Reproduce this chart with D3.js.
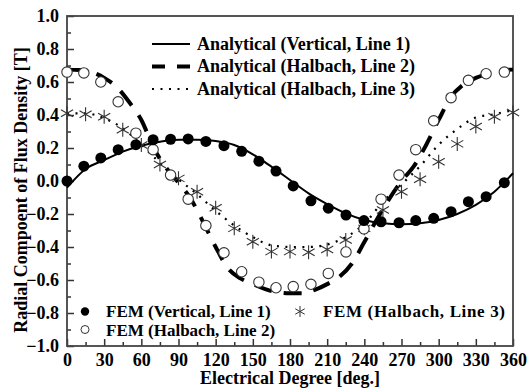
<!DOCTYPE html>
<html>
<head>
<meta charset="utf-8">
<script src="https://cdn.jsdelivr.net/npm/d3@7"></script>
<style>
  body { margin: 0; background: #fff; }
  svg text { font-family: "Liberation Serif", "Times New Roman", serif; font-weight: bold; fill: #000; }
</style>
</head>
<body>
<main></main>
<script>
// analytical curves
var angle15 = [0,15,30,45,60,75,90,105,120,135,150,165,180,195,210,225,240,255,270,285,300,315,330,345,360];
var angle10 = [0,10,20,30,40,50,60,70,80,90,100,110,120,130,140,150,160,170,180,190,200,210,220,230,240,250,260,270,280,290,300,310,320,330,340,350,360];
var anaVertical = [-0.04,0.073,0.127,0.178,0.214,0.238,0.25,0.25,0.242,0.218,0.162,0.087,0.006,-0.075,-0.14,-0.196,-0.236,-0.256,-0.262,-0.256,-0.236,-0.2,-0.145,-0.065,0.047];
var anaHalbach2 = [0.675,0.673,0.66,0.625,0.57,0.48,0.37,0.2,0.08,-0.01,-0.11,-0.25,-0.4,-0.53,-0.59,-0.625,-0.655,-0.675,-0.68,-0.68,-0.66,-0.625,-0.58,-0.5,-0.37,-0.235,-0.11,0,0.09,0.22,0.37,0.51,0.585,0.625,0.65,0.67,0.675];
var anaHalbach3 = [0.41,0.41,0.38,0.32,0.22,0.11,0.01,-0.08,-0.18,-0.27,-0.34,-0.39,-0.4,-0.4,-0.385,-0.34,-0.26,-0.125,-0.02,0.09,0.22,0.315,0.385,0.405,0.43];

// FEM points
var femAngle = [0,13.6,27.3,41.3,55.6,69.5,83.6,97.8,112.1,126.7,141,154.9,168.7,182.6,196.9,210.9,225.2,239.7,253.5,268,281.5,296,310,324,338.3,353];
var femVertical = [0,0.09,0.14,0.19,0.22,0.25,0.253,0.255,0.24,0.214,0.18,0.12,0.06,-0.03,-0.12,-0.165,-0.206,-0.24,-0.247,-0.253,-0.24,-0.226,-0.186,-0.125,-0.095,-0.01];
var femHalbach2 = [0.66,0.655,0.6,0.48,0.29,0.19,0.036,-0.11,-0.27,-0.435,-0.55,-0.613,-0.647,-0.64,-0.626,-0.56,-0.43,-0.29,-0.11,0.036,0.19,0.365,0.505,0.61,0.65,0.66];
var femHalbach3 = [0.41,0.405,0.39,0.31,0.218,0.1,0.016,-0.065,-0.162,-0.287,-0.368,-0.428,-0.428,-0.432,-0.415,-0.358,-0.287,-0.176,-0.065,0.01,0.117,0.225,0.33,0.39,0.415];

var xTicks = [0,30,60,90,120,150,180,210,240,270,300,330,360];
var yTicks = [-1.0,-0.8,-0.6,-0.4,-0.2,0.0,0.2,0.4,0.6,0.8,1.0];

var fs = 18;

var svg = d3.select('main').append('svg')
    .attr('width', 527)
    .attr('height', 389);

var x = d3.scaleLinear().domain([0, 360]).range([67, 513]);
var y = d3.scaleLinear().domain([-1, 1]).range([346, 16]);

// minor ticks
svg.append('g')
    .attr('transform', 'translate(0,346)')
    .call(d3.axisBottom(x).tickValues(d3.range(15, 360, 30)).tickSize(-4).tickFormat(''))
    .call(g => g.select('.domain').remove())
    .selectAll('line').attr('stroke', '#333').attr('stroke-width', 1.5);
svg.append('g')
    .attr('transform', 'translate(67,0)')
    .call(d3.axisLeft(y).tickValues(d3.range(-9, 10, 2).map(d => d / 10)).tickSize(-4).tickFormat(''))
    .call(g => g.select('.domain').remove())
    .selectAll('line').attr('stroke', '#333').attr('stroke-width', 1.5);

// major axes
var xAxis = svg.append('g')
    .attr('transform', 'translate(0,346)')
    .call(d3.axisBottom(x).tickValues(xTicks).tickSize(-7).tickPadding(7).tickFormat(d3.format('d')));
var yAxis = svg.append('g')
    .attr('transform', 'translate(67,0)')
    .call(d3.axisLeft(y).tickValues(yTicks).tickSize(-7).tickPadding(8).tickFormat(d3.format('.1f')));
[xAxis, yAxis].forEach(function(g) {
  g.select('.domain').remove();
  g.selectAll('line').attr('stroke', '#333').attr('stroke-width', 1.5);
  g.selectAll('text').attr('font-size', fs);
});

// frame
svg.append('rect')
    .attr('x', x(0)).attr('y', y(1))
    .attr('width', x(360) - x(0)).attr('height', y(-1) - y(1))
    .attr('fill', 'none').attr('stroke', '#444').attr('stroke-width', 1.8);

// lines
var line = d3.line().x(d => x(d[0])).y(d => y(d[1])).curve(d3.curveMonotoneX);
svg.append('path').datum(d3.zip(angle15, anaVertical))
    .attr('d', line).attr('fill', 'none').attr('stroke', '#000').attr('stroke-width', 2);
svg.append('path').datum(d3.zip(angle10, anaHalbach2))
    .attr('d', line).attr('fill', 'none').attr('stroke', '#000').attr('stroke-width', 4)
    .attr('stroke-dasharray', '18,12');
svg.append('path').datum(d3.zip(angle15, anaHalbach3))
    .attr('d', line).attr('fill', 'none').attr('stroke', '#000').attr('stroke-width', 2.2)
    .attr('stroke-dasharray', '2,6.5');

// star marker path
function star(r) {
  var a = Math.PI / 6, c = Math.cos(a) * r, s = Math.sin(a) * r;
  return 'M0,' + (-r) + 'L0,' + r + 'M' + (-c) + ',' + (-s) + 'L' + c + ',' + s +
         'M' + (-c) + ',' + s + 'L' + c + ',' + (-s);
}

// FEM markers
svg.selectAll('.star').data(d3.zip(angle15, femHalbach3)).enter().append('path')
    .attr('class', 'star')
    .attr('transform', d => 'translate(' + x(d[0]) + ',' + y(d[1]) + ')')
    .attr('d', star(7)).attr('stroke', '#333').attr('stroke-width', 1.1).attr('fill', 'none');
svg.selectAll('.open').data(d3.zip(femAngle, femHalbach2)).enter().append('circle')
    .attr('class', 'open')
    .attr('cx', d => x(d[0])).attr('cy', d => y(d[1])).attr('r', 5.2)
    .attr('fill', '#fff').attr('stroke', '#333').attr('stroke-width', 1.1);
svg.selectAll('.filled').data(d3.zip(femAngle, femVertical)).enter().append('circle')
    .attr('class', 'filled')
    .attr('cx', d => x(d[0])).attr('cy', d => y(d[1])).attr('r', 5.5)
    .attr('fill', '#000');

// top legend
var topLegend = [
  { label: 'Analytical (Vertical, Line 1)', w: 2, dash: null },
  { label: 'Analytical (Halbach, Line 2)', w: 4, dash: '13,12' },
  { label: 'Analytical (Halbach, Line 3)', w: 2.2, dash: '2,6.5' }
];
topLegend.forEach(function(d, i) {
  var ly = 44 + i * 22.5;
  svg.append('line').attr('x1', 152).attr('x2', 190).attr('y1', ly).attr('y2', ly)
      .attr('stroke', '#000').attr('stroke-width', d.w).attr('stroke-dasharray', d.dash);
  svg.append('text').attr('x', 197).attr('y', ly).attr('dy', '0.33em')
      .attr('font-size', fs).text(d.label);
});

// bottom legend
var fsb = 17;
svg.append('circle').attr('cx', 85).attr('cy', 311.5).attr('r', 4.2).attr('fill', '#000');
svg.append('text').attr('x', 106).attr('y', 311).attr('dy', '0.33em').attr('font-size', fsb).text('FEM (Vertical, Line 1)');
svg.append('path').attr('transform', 'translate(300,311.5)').attr('d', star(5.5))
    .attr('stroke', '#333').attr('stroke-width', 1).attr('fill', 'none');
svg.append('text').attr('x', 323).attr('y', 311).attr('dy', '0.33em').attr('font-size', fsb)
    .attr('textLength', 182).attr('lengthAdjust', 'spacing').text('FEM (Halbach, Line 3)');
svg.append('circle').attr('cx', 85).attr('cy', 329.5).attr('r', 4).attr('fill', '#fff')
    .attr('stroke', '#333').attr('stroke-width', 1);
svg.append('text').attr('x', 106).attr('y', 330.5).attr('dy', '0.33em').attr('font-size', fsb).text('FEM (Halbach, Line 2)');

// axis titles
svg.append('text').attr('x', 290).attr('y', 384).attr('text-anchor', 'middle')
    .attr('font-size', fs).text('Electrical Degree [deg.]');
svg.append('text').attr('transform', 'translate(27,190) rotate(-90)').attr('text-anchor', 'middle')
    .attr('font-size', fs).text('Radial Compoent of Flux Density [T]');
</script>
</body>
</html>
